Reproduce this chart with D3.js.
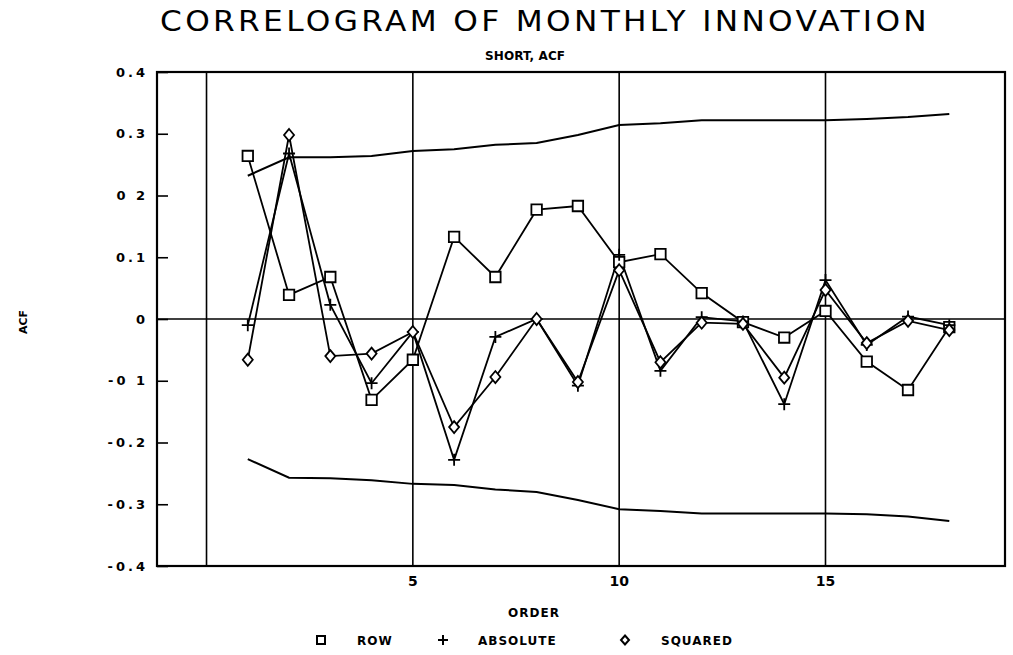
<!DOCTYPE html>
<html>
<head>
<meta charset="utf-8">
<script src="https://cdn.jsdelivr.net/npm/d3@7"></script>
<style>
  body { margin: 0; background: #fff; }
  text { font-family: "DejaVu Sans", sans-serif; fill: #000; }
</style>
</head>
<body>
<svg id="chart" width="1013" height="655"></svg>
<script>
var lags = [1, 2, 3, 4, 5, 6, 7, 8, 9, 10, 11, 12, 13, 14, 15, 16, 17, 18];
var rowAcf = [0.264, 0.039, 0.068, -0.131, -0.066, 0.133, 0.068, 0.177, 0.183, 0.092, 0.105, 0.042, -0.005, -0.030, 0.013, -0.069, -0.115, -0.013];
var absAcf = [-0.010, 0.268, 0.023, -0.104, -0.021, -0.228, -0.029, 0.000, -0.108, 0.104, -0.084, 0.003, -0.004, -0.138, 0.063, -0.042, 0.004, -0.010];
var sqAcf = [-0.066, 0.298, -0.060, -0.056, -0.021, -0.175, -0.094, 0.000, -0.102, 0.079, -0.070, -0.006, -0.008, -0.095, 0.047, -0.039, -0.003, -0.018];
var upperBand = [0.232, 0.262, 0.262, 0.264, 0.272, 0.275, 0.282, 0.285, 0.298, 0.314, 0.317, 0.322, 0.322, 0.322, 0.322, 0.324, 0.327, 0.332];
var lowerBand = [-0.227, -0.257, -0.258, -0.261, -0.267, -0.269, -0.276, -0.280, -0.293, -0.308, -0.311, -0.315, -0.315, -0.315, -0.315, -0.316, -0.320, -0.327];
var yTicks = [-0.4, -0.3, -0.2, -0.1, 0, 0.1, 0.2, 0.3, 0.4];
var yTickLabels = ["-0.4", "-0.3", "-0.2", "-0 1", "0", "0.1", "0 2", "0.3", "0.4"];
var xGrid = [0, 5, 10, 15];
var xTickLabels = ["", "5", "10", "15"];
var legendNames = ["ROW", "ABSOLUTE", "SQUARED"];

var svg = d3.select("#chart");

var x = d3.scaleLinear().domain([-1.2, 19.35]).range([157, 1005]);
var y = d3.scaleLinear().domain([-0.4, 0.4]).range([566, 72]);

// titles
svg.append("text")
    .attr("x", 160).attr("y", 31)
    .attr("textLength", 770).attr("lengthAdjust", "spacingAndGlyphs")
    .style("font-size", "28px")
    .style("letter-spacing", "3px")
    .text("CORRELOGRAM OF MONTHLY INNOVATION");

svg.append("text")
    .attr("x", 485).attr("y", 60)
    .attr("textLength", 80).attr("lengthAdjust", "spacing")
    .style("font-size", "12px").style("font-weight", "bold")
    .text("SHORT, ACF");

// grid lines through 0, 5, 10, 15 and the zero line
svg.append("g").selectAll("line")
    .data(xGrid)
  .enter().append("line")
    .attr("x1", d => x(d)).attr("x2", d => x(d))
    .attr("y1", y(0.4)).attr("y2", y(-0.4))
    .attr("stroke", "#000").attr("stroke-width", 1.6);

svg.append("line")
    .attr("x1", x(-1.2)).attr("x2", x(19.35))
    .attr("y1", y(0)).attr("y2", y(0))
    .attr("stroke", "#000").attr("stroke-width", 1.6);

// frame
svg.append("rect")
    .attr("x", x(-1.2)).attr("y", y(0.4))
    .attr("width", x(19.35) - x(-1.2)).attr("height", y(-0.4) - y(0.4))
    .attr("fill", "none").attr("stroke", "#000").attr("stroke-width", 2.2);

// y axis, ticks pointing into the plot
var yAxis = d3.axisRight(y)
    .tickValues(yTicks)
    .tickSize(11)
    .tickFormat("");
svg.append("g")
    .attr("transform", "translate(" + x(-1.2) + ",0)")
    .call(yAxis)
    .call(g => g.select(".domain").remove())
    .call(g => g.selectAll("line").attr("stroke-width", 1.6));

svg.append("g").selectAll("text")
    .data(yTicks)
  .enter().append("text")
    .attr("x", 148)
    .attr("y", d => y(d))
    .attr("dy", "0.36em")
    .attr("text-anchor", "end")
    .style("font-size", "13px").style("font-weight", "bold")
    .style("letter-spacing", "3px")
    .text((d, i) => yTickLabels[i]);

svg.append("g").selectAll("text")
    .data(xGrid)
  .enter().append("text")
    .attr("x", d => x(d))
    .attr("y", 586)
    .attr("text-anchor", "middle")
    .style("font-size", "14px").style("font-weight", "bold")
    .text((d, i) => xTickLabels[i]);

svg.append("text")
    .attr("x", 534).attr("y", 617)
    .attr("text-anchor", "middle")
    .style("font-size", "12px").style("font-weight", "bold")
    .style("letter-spacing", "1px")
    .text("ORDER");

svg.append("text")
    .attr("transform", "translate(27,322) rotate(-90)")
    .attr("text-anchor", "middle")
    .style("font-size", "11px").style("font-weight", "bold")
    .text("ACF");

// confidence bands
var line = d3.line()
    .x((d, i) => x(lags[i]))
    .y(d => y(d));

[upperBand, lowerBand].forEach(function(band) {
  svg.append("path")
      .datum(band)
      .attr("d", line)
      .attr("fill", "none")
      .attr("stroke", "#000")
      .attr("stroke-width", 2);
});

// marker shapes
var square = d3.symbol().type(d3.symbolSquare).size(110);
var diamond = "M0,-6L5,0L0,6L-5,0Z";
var cross = "M-6,0H6M0,-6V6";

var series = [
  { values: rowAcf, shape: square() },
  { values: absAcf, shape: cross },
  { values: sqAcf, shape: diamond }
];

series.forEach(function(s) {
  svg.append("path")
      .datum(s.values)
      .attr("d", line)
      .attr("fill", "none")
      .attr("stroke", "#000")
      .attr("stroke-width", 1.8);
});

series.forEach(function(s) {
  svg.append("g").selectAll("path")
      .data(s.values)
    .enter().append("path")
      .attr("transform", (d, i) => "translate(" + x(lags[i]) + "," + y(d) + ")")
      .attr("d", s.shape)
      .attr("fill", "#fff")
      .attr("stroke", "#000")
      .attr("stroke-width", 1.8);
});

// legend
var legendMarkX = [321, 443, 625];
var legendTextX = [357, 478, 661];
var legend = svg.append("g");
series.forEach(function(s, i) {
  legend.append("path")
      .attr("transform", "translate(" + legendMarkX[i] + ",640)")
      .attr("d", i === 0 ? d3.symbol().type(d3.symbolSquare).size(64)() : (i === 1 ? "M-5,0H5M0,-5V5" : "M0,-4.5L4,0L0,4.5L-4,0Z"))
      .attr("fill", "#fff")
      .attr("stroke", "#000")
      .attr("stroke-width", 2);
  legend.append("text")
      .attr("x", legendTextX[i]).attr("y", 645)
      .style("font-size", "12px").style("font-weight", "bold")
      .style("letter-spacing", "1px")
      .text(legendNames[i]);
});
</script>
</body>
</html>
